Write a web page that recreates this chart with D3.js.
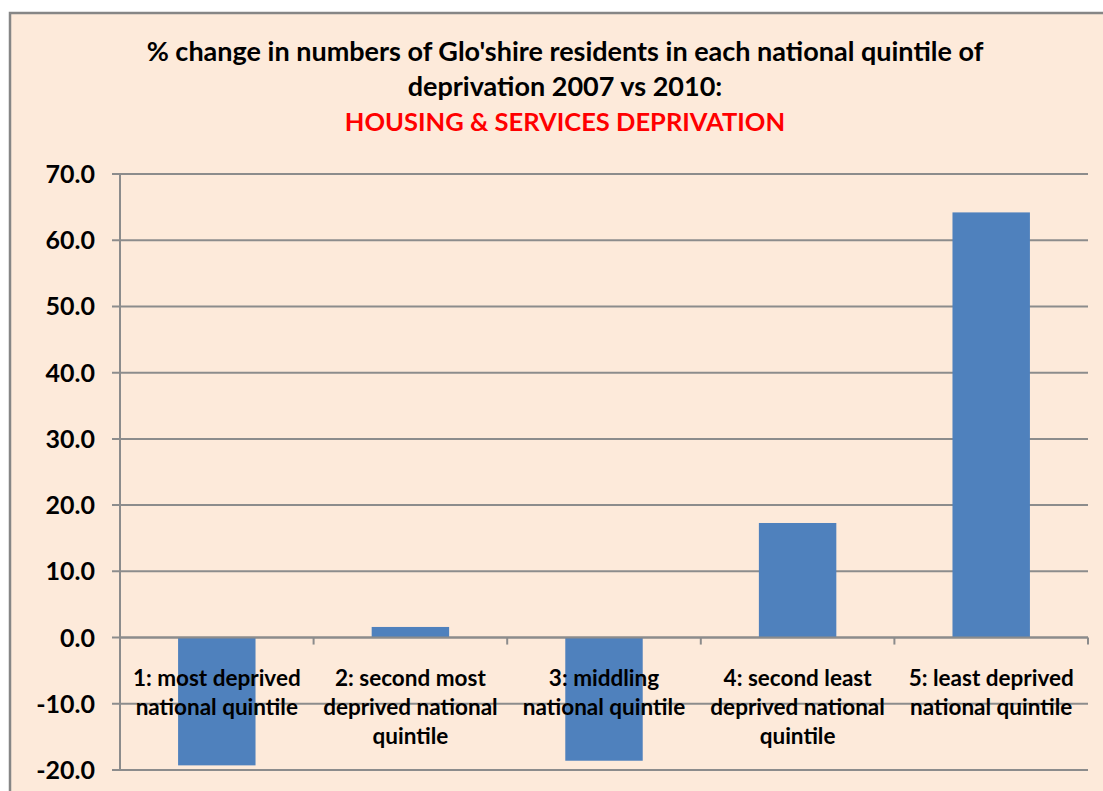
<!DOCTYPE html>
<html>
<head>
<meta charset="utf-8">
<script src="https://cdn.jsdelivr.net/npm/d3@7"></script>
<style>
  body { margin: 0; background: #fff; }
  svg text { font-family: Lato, "Open Sans", sans-serif; font-weight: bold; }
</style>
</head>
<body>
<div id="container"></div>
<script>
// chart data
var categories = [
    "1: most deprived\nnational quintile",
    "2: second most\ndeprived national\nquintile",
    "3: middling\nnational quintile",
    "4: second least\ndeprived national\nquintile",
    "5: least deprived\nnational quintile"
];
var values = [-19.3, 1.6, -18.6, 17.3, 64.2];
var yTicks = [-20, -10, 0, 10, 20, 30, 40, 50, 60, 70];
var titleLines = [
    "% change in numbers of Glo'shire residents in each national quintile of",
    "deprivation 2007 vs 2010:"
];
var subtitle = "HOUSING & SERVICES DEPRIVATION";

var width = 1103, height = 791;
var margin = {left: 120, right: 15, top: 174, bottom: 21};

var svg = d3.select("#container").append("svg")
    .attr("width", width)
    .attr("height", height);

// chart area background + border
svg.append("rect")
    .attr("x", 10).attr("y", 13)
    .attr("width", width + 20).attr("height", height + 20)
    .attr("fill", "#fdeada")
    .attr("stroke", "#868686")
    .attr("stroke-width", 2.5);

var x = d3.scaleBand()
    .domain(categories)
    .range([margin.left, width - margin.right])
    .paddingInner(0.6)
    .paddingOuter(0.3);

var y = d3.scaleLinear()
    .domain([-20, 70])
    .range([height - margin.bottom, margin.top]);

// gridlines
svg.append("g")
    .selectAll("line")
    .data(yTicks)
    .enter().append("line")
    .attr("x1", margin.left - 8)
    .attr("x2", width - margin.right)
    .attr("y1", function(d) { return y(d); })
    .attr("y2", function(d) { return y(d); })
    .style("stroke", "#8c8c8c")
    .style("stroke-width", 2);

// y axis line
svg.append("line")
    .attr("x1", margin.left).attr("x2", margin.left)
    .attr("y1", y(70)).attr("y2", y(-20))
    .style("stroke", "#8c8c8c")
    .style("stroke-width", 2);

// y tick labels (plain hyphen for negatives, like the original)
var fmt = function(d) { return d.toFixed(1); };
svg.append("g")
    .selectAll("text")
    .data(yTicks)
    .enter().append("text")
    .attr("x", 95)
    .attr("y", function(d) { return y(d); })
    .attr("dy", "0.36em")
    .attr("text-anchor", "end")
    .style("font-size", "25px")
    .style("fill", "#000")
    .text(fmt);

// bars
svg.append("g")
    .selectAll("rect")
    .data(values)
    .enter().append("rect")
    .attr("x", function(d, i) { return x(categories[i]); })
    .attr("width", x.bandwidth())
    .attr("y", function(d) { return y(Math.max(0, d)); })
    .attr("height", function(d) { return Math.abs(y(d) - y(0)); })
    .attr("fill", "#4f81bd");

// category tick marks at band boundaries
var bounds = d3.range(categories.length + 1).map(function(i) {
    return margin.left + i * (width - margin.right - margin.left) / categories.length;
});
svg.append("g")
    .selectAll("line")
    .data(bounds.slice(1))
    .enter().append("line")
    .attr("x1", function(d) { return d; })
    .attr("x2", function(d) { return d; })
    .attr("y1", y(0))
    .attr("y2", y(0) + 7)
    .style("stroke", "#8c8c8c")
    .style("stroke-width", 2);

// zero line
svg.append("line")
    .attr("x1", margin.left).attr("x2", width - margin.right)
    .attr("y1", y(0)).attr("y2", y(0))
    .style("stroke", "#8c8c8c")
    .style("stroke-width", 2);

// category labels
var labels = svg.append("g")
    .selectAll("text")
    .data(categories)
    .enter().append("text")
    .attr("x", function(d) { return x(d) + x.bandwidth() / 2; })
    .attr("y", y(0) + 48)
    .attr("text-anchor", "middle")
    .style("font-size", "22.5px")
    .style("fill", "#000");

labels.selectAll("tspan")
    .data(function(d) { return d.split("\n"); })
    .enter().append("tspan")
    .attr("x", function() { return d3.select(this.parentNode).attr("x"); })
    .attr("dy", function(d, i) { return i === 0 ? 0 : 29; })
    .text(function(d) { return d; });

// title
svg.append("g")
    .selectAll("text")
    .data(titleLines)
    .enter().append("text")
    .attr("x", 565)
    .attr("y", function(d, i) { return 61 + i * 35; })
    .attr("text-anchor", "middle")
    .style("font-size", "27px")
    .style("fill", "#000")
    .text(function(d) { return d; });

svg.append("text")
    .attr("x", 565)
    .attr("y", 131)
    .attr("text-anchor", "middle")
    .style("font-size", "25.5px")
    .style("fill", "#ff0000")
    .text(subtitle);
</script>
</body>
</html>
